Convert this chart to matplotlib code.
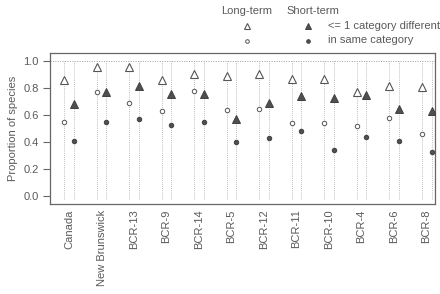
import matplotlib
matplotlib.use("Agg")
import matplotlib.pyplot as plt
from matplotlib.lines import Line2D
import numpy as np

plt.rcParams['font.family'] = ['Liberation Sans', 'DejaVu Sans']

categories = ["Canada", "New Brunswick", "BCR-13", "BCR-9", "BCR-14", "BCR-5",
              "BCR-12", "BCR-11", "BCR-10", "BCR-4", "BCR-6", "BCR-8"]
long_within1 = [0.86, 0.96, 0.96, 0.86, 0.91, 0.89, 0.91, 0.87, 0.87, 0.77, 0.82, 0.81]
long_same = [0.55, 0.77, 0.69, 0.63, 0.78, 0.64, 0.65, 0.54, 0.54, 0.52, 0.58, 0.46]
short_within1 = [0.68, 0.77, 0.82, 0.76, 0.76, 0.57, 0.69, 0.74, 0.73, 0.75, 0.645, 0.63]
short_same = [0.41, 0.55, 0.57, 0.53, 0.55, 0.40, 0.43, 0.48, 0.345, 0.44, 0.41, 0.33]

TXT = '#5a5a5a'
DARK = '#555555'
fig = plt.figure(figsize=(4.4, 2.94), dpi=100)
ax = fig.add_axes([0.1136, 0.306, 0.875, 0.513])

x = np.arange(len(categories))
off = 0.153
xl = x - off
xs = x + off

for xv in np.concatenate([xl, xs]):
    ax.plot([xv, xv], [-0.02, 1.0], ls=(0, (1, 1.5)), color='#a8a8a8', lw=0.6, zorder=1)
ax.axhline(1.0, ls=(0, (1, 1.5)), color='#a0a0a0', lw=0.7, zorder=1)

ax.plot(xl, long_within1, ls='none', marker='^', ms=5.2, mfc='white', mec=DARK, mew=0.8, zorder=3)
ax.plot(xl, long_same, ls='none', marker='o', ms=3.2, mfc='white', mec=DARK, mew=0.7, zorder=3)
ax.plot(xs, short_within1, ls='none', marker='^', ms=5.2, mfc='#505050', mec='#404040', mew=0.7, zorder=3)
ax.plot(xs, short_same, ls='none', marker='o', ms=3.2, mfc='#505050', mec='#404040', mew=0.7, zorder=3)

ax.set_xlim(-0.585, 11.26)
ax.set_ylim(-0.06, 1.061)
ax.set_yticks([0.0, 0.2, 0.4, 0.6, 0.8, 1.0])
ax.set_yticklabels(["0.0", "0.2", "0.4", "0.6", "0.8", "1.0"])
ax.set_xticks(x)
ax.set_xticklabels(categories, rotation=90)
ax.tick_params(axis='x', length=0, pad=4, labelsize=8, colors=TXT)
ax.tick_params(axis='y', length=5, width=0.8, pad=3, labelsize=8, colors=TXT, direction='out')
ax.tick_params(axis='y', color='#666666')
for s in ax.spines.values():
    s.set_color('#666666')
    s.set_linewidth(0.9)
ax.set_ylabel("Proportion of species", fontsize=8, color=TXT, labelpad=4)

# legend
fig.text(247 / 440, 1 - 11 / 294, "Long-term", ha='center', va='center', fontsize=8, color=TXT)
fig.text(313 / 440, 1 - 11 / 294, "Short-term", ha='center', va='center', fontsize=8, color=TXT)
fig.add_artist(Line2D([247 / 440], [1 - 26 / 294], ls='none', marker='^', ms=4.5, mfc='white', mec=DARK, mew=0.8))
fig.add_artist(Line2D([247 / 440], [1 - 41 / 294], ls='none', marker='o', ms=2.6, mfc='white', mec=DARK, mew=0.7))
fig.add_artist(Line2D([308 / 440], [1 - 26 / 294], ls='none', marker='^', ms=4.5, mfc='#505050', mec='#404040', mew=0.7))
fig.add_artist(Line2D([308 / 440], [1 - 41 / 294], ls='none', marker='o', ms=2.6, mfc='#505050', mec='#404040', mew=0.7))
fig.text(328 / 440, 1 - 26 / 294, "<= 1 category different", ha='left', va='center', fontsize=8, color=TXT)
fig.text(328 / 440, 1 - 40 / 294, "in same category", ha='left', va='center', fontsize=8, color=TXT)

fig.savefig("out.png", dpi=100)
